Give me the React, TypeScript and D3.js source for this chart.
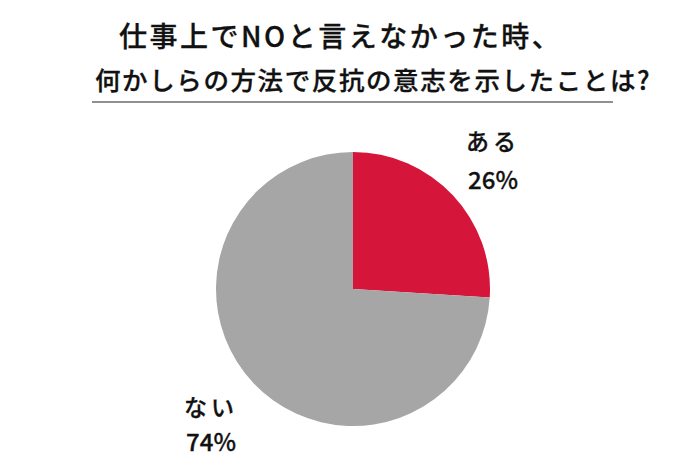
import React from "react";
import * as d3 from "d3";

const titleLines = ["仕事上でNOと言えなかった時、", "何かしらの方法で反抗の意志を示したことは?"];
const categories = ["ある", "ない"];
const values = [26, 74];
const colors = ["#d6153b", "#a6a6a6"];

export default function App() {
  const width = 690;
  const height = 460;
  const cx = 353;
  const cy = 289;
  const r = 137;
  const pie = d3.pie<number>().sort(null).value((d) => d);
  const arcs = pie(values);
  const arc = d3.arc<d3.PieArcDatum<number>>().innerRadius(0).outerRadius(r);
  const font = "'Noto Sans CJK JP', 'Noto Sans', sans-serif";
  const labelPos = [
    { x: 493, y1: 150, y2: 189 },
    { x: 211, y1: 416, y2: 451 },
  ];
  const textStyle = { stroke: "#111", strokeWidth: 0.3 };
  return (
    <svg
      width={width}
      height={height}
      style={{ position: "absolute", left: 0, top: 0, background: "#fff" }}
    >
      <text x={119} y={47} fontFamily={font} fontSize={28} fontWeight={500} fill="#111"
        letterSpacing={2.5} style={textStyle}>
        {titleLines[0]}
      </text>
      <text x={95} y={90} fontFamily={font} fontSize={25.5} fontWeight={500} fill="#111"
        letterSpacing={1.6} style={textStyle}>
        {titleLines[1]}
      </text>
      <line x1={92} x2={613} y1={102} y2={102} stroke="#222" strokeWidth={1.2} />
      <g transform={`translate(${cx},${cy})`}>
        {arcs.map((a, i) => (
          <path key={i} d={arc(a) || ""} fill={colors[i]} />
        ))}
      </g>
      {categories.map((c, i) => (
        <g key={c}>
          <text x={labelPos[i].x} y={labelPos[i].y1} textAnchor="middle" fontFamily={font}
            fontSize={23} fontWeight={500} fill="#111" letterSpacing={4} style={textStyle}>
            {c}
          </text>
          <text x={labelPos[i].x} y={labelPos[i].y2} textAnchor="middle" fontFamily={font}
            fontSize={24} fontWeight={500} fill="#111" style={textStyle}>
            {values[i]}%
          </text>
        </g>
      ))}
    </svg>
  );
}
